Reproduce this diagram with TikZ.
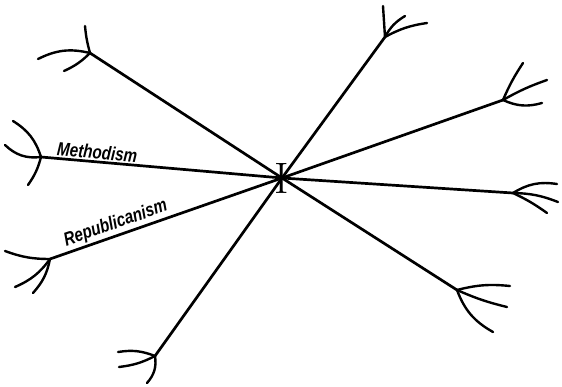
\documentclass[tikz,border=0pt]{standalone}
\usepackage{fontspec}
\newfontfamily\handfont[FakeStretch=0.8]{Liberation Sans}

\begin{document}
\begin{tikzpicture}[
    x=1pt, y=-1pt,
    stem/.style={line width=2.7pt, line cap=round},
    twig/.style={line width=2.4pt, line cap=round},
    tag/.style={font=\handfont\itshape\bfseries\fontsize{19}{19}\selectfont, inner sep=1.5pt}
]
\useasboundingbox (0,0) rectangle (562,386);

% Nodes
\node[inner sep=0pt, font=\fontsize{44}{44}\selectfont] (self) at (282,178) {I};
\coordinate (f1) at (90,53);   \coordinate (f1a) at (85,26);  \coordinate (f1b) at (38,59);  \coordinate (f1c) at (64,71);
\coordinate (f2) at (41,157);  \coordinate (f2a) at (13,121); \coordinate (f2b) at (5,145);  \coordinate (f2c) at (28,185);
\coordinate (f3) at (50,259);  \coordinate (f3a) at (5,251);  \coordinate (f3b) at (15,287); \coordinate (f3c) at (33,293);
\coordinate (f4) at (155,356); \coordinate (f4a) at (118,352); \coordinate (f4b) at (119,367); \coordinate (f4c) at (147,383);
\coordinate (f5) at (385,37);  \coordinate (f5a) at (383,6);  \coordinate (f5b) at (405,16); \coordinate (f5c) at (427,23);
\coordinate (f6) at (503,100); \coordinate (f6a) at (523,63); \coordinate (f6b) at (547,80); \coordinate (f6c) at (542,103);
\coordinate (f7) at (513,193); \coordinate (f7a) at (557,184); \coordinate (f7b) at (558,202); \coordinate (f7c) at (547,213);
\coordinate (f8) at (457,290); \coordinate (f8a) at (510,286); \coordinate (f8b) at (507,307); \coordinate (f8c) at (493,332);

% Connections
\draw[stem] (self.center) -- (f1);
\draw[stem] (f2) -- node[tag, above, sloped, pos=0.23] {Methodism} (self.center);
\draw[stem] (f3) -- node[tag, above, sloped, pos=0.30] {Republicanism} (self.center);
\draw[stem] (self.center) -- (f4);
\draw[stem] (self.center) -- (f5);
\draw[stem] (self.center) -- (f6);
\draw[stem] (self.center) -- (f7);
\draw[stem] (self.center) -- (f8);

% Twigs
\draw[twig] (f1) to[bend left=5] (f1a);
\draw[twig] (f1) to[bend right=20] (f1b);
\draw[twig] (f1) to[bend left=10] (f1c);
\draw[twig] (f2) to[bend right=20] (f2a);
\draw[twig] (f2) to[bend left=25] (f2b);
\draw[twig] (f2) to[bend left=10] (f2c);
\draw[twig] (f3) to[bend left=10] (f3a);
\draw[twig] (f3) to[bend left=15] (f3b);
\draw[twig] (f3) to[bend left=15] (f3c);
\draw[twig] (f4) to[bend right=15] (f4a);
\draw[twig] (f4) to[bend left=10] (f4b);
\draw[twig] (f4) to[bend left=25] (f4c);
\draw[twig] (f5) to (f5a);
\draw[twig] (f5) to[bend left=15] (f5b);
\draw[twig] (f5) to[bend left=10] (f5c);
\draw[twig] (f6) to[bend left=5] (f6a);
\draw[twig] (f6) to[bend left=5] (f6b);
\draw[twig] (f6) to[bend right=20] (f6c);
\draw[twig] (f7) to[bend left=20] (f7a);
\draw[twig] (f7) to[bend left=10] (f7b);
\draw[twig] (f7) to[bend left=5] (f7c);
\draw[twig] (f8) to[bend left=10] (f8a);
\draw[twig] (f8) to[bend right=5] (f8b);
\draw[twig] (f8) to[bend right=20] (f8c);

\end{tikzpicture}
\end{document}
